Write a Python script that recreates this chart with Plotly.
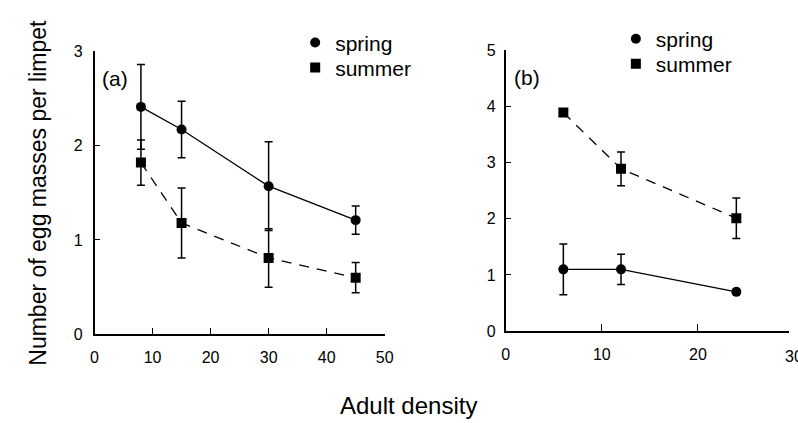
import plotly.graph_objects as go

# ---- data ----
a_density = [8, 15, 30, 45]
a_spring = [2.41, 2.17, 1.57, 1.21]
a_spring_err = [0.45, 0.30, 0.47, 0.15]
a_summer = [1.82, 1.18, 0.81, 0.60]
a_summer_err = [0.24, 0.37, 0.31, 0.16]

b_density = [6, 12, 24]
b_spring = [1.10, 1.10, 0.70]
b_spring_err = [0.45, 0.27, 0.0]
b_summer = [3.89, 2.89, 2.01]
b_summer_err = [0.0, 0.30, 0.36]

a_xticks = [0, 10, 20, 30, 40, 50]
a_yticks = [0, 1, 2, 3]
b_xticks = [0, 10, 20, 30]
b_yticks = [0, 1, 2, 3, 4, 5]

FONT = "Liberation Sans, Arial, sans-serif"
W, H = 798, 423

a_xdom = [92 / W, 387 / W]
a_ydom = [83 / H, 378 / H]
b_xdom = [510 / W, 1.0]
b_ydom = [86.3 / H, 379 / H]
a_xrange = [0, 50]
b_xrange = [0, 29.48]

fig = go.Figure()

def add_series(x, y, err, xa, ya, name, symbol, dash, legend):
    fig.add_trace(go.Scatter(
        x=x, y=y, mode="lines", xaxis=xa, yaxis=ya, showlegend=False,
        line=dict(color="black", width=1.3, dash=dash), hoverinfo="skip"))
    fig.add_trace(go.Scatter(
        x=x, y=y, mode="markers", xaxis=xa, yaxis=ya, name=name, legend=legend,
        marker=dict(symbol=symbol, size=10, color="black"),
        error_y=dict(type="data", array=err, visible=True, color="black",
                     thickness=1.5, width=4)))

add_series(a_density, a_spring, a_spring_err, "x", "y", "spring", "circle", "solid", "legend")
add_series(a_density, a_summer, a_summer_err, "x", "y", "summer", "square", "10px,8px", "legend3")
add_series(b_density, b_spring, b_spring_err, "x2", "y2", "spring", "circle", "solid", "legend2")
add_series(b_density, b_summer, b_summer_err, "x2", "y2", "summer", "square", "10px,8px", "legend4")

axis_common = dict(showline=True, linecolor="black", linewidth=1.5, showgrid=False,
                   zeroline=False, ticks="inside", tickcolor="black", tickwidth=1.2,
                   tickfont=dict(family=FONT, size=16, color="black"))

def leg(xpx, ytop):
    return dict(x=xpx / W, y=1 - ytop / H, xanchor="left", yanchor="top",
                font=dict(family=FONT, size=21, color="black"),
                bgcolor="rgba(0,0,0,0)", itemwidth=30)

fig.update_layout(
    width=W, height=H, margin=dict(l=0, r=0, t=0, b=0),
    paper_bgcolor="white", plot_bgcolor="white",
    font=dict(family=FONT, color="black"),
    xaxis=dict(domain=a_xdom, range=a_xrange, tickvals=a_xticks, ticklen=7,
               anchor="y", ticklabelstandoff=8, **axis_common),
    yaxis=dict(domain=a_ydom, range=[0, 3], tickvals=a_yticks, ticklen=6,
               anchor="x", ticklabelstandoff=7, **axis_common),
    xaxis2=dict(domain=b_xdom, range=b_xrange, tickvals=b_xticks, ticklen=7,
                anchor="y2", ticklabelstandoff=8, **axis_common),
    yaxis2=dict(domain=b_ydom, range=[0, 5], tickvals=b_yticks, ticklen=6,
                anchor="x2", ticklabelstandoff=5, **axis_common),
    legend=leg(296, 15),
    legend3=leg(296, 41),
    legend2=leg(622, 11),
    legend4=leg(622, 37),
)

# partially visible last tick label of panel (b), placed from the axis scale
x30 = b_xdom[0] + (b_xticks[-1] - b_xrange[0]) / (b_xrange[1] - b_xrange[0]) * (b_xdom[1] - b_xdom[0])

annotations = [
    dict(text="Number of egg masses per limpet", textangle=-90, xref="paper", yref="paper",
         x=35 / W, y=1 - 192 / H, showarrow=False, xanchor="center", yanchor="middle",
         font=dict(family=FONT, size=23, color="black")),
    dict(text="Adult density", xref="paper", yref="paper", x=411 / W, y=1 - 398 / H,
         showarrow=False, xanchor="center", yanchor="top",
         font=dict(family=FONT, size=24, color="black")),
    dict(text="(a)", xref="paper", yref="paper", x=113 / W, y=1 - 73 / H, showarrow=False,
         xanchor="center", yanchor="middle", font=dict(family=FONT, size=21, color="black")),
    dict(text="(b)", xref="paper", yref="paper", x=532 / W, y=1 - 72 / H, showarrow=False,
         xanchor="center", yanchor="middle", font=dict(family=FONT, size=21, color="black")),
    dict(text=str(b_xticks[-1]), xref="paper", yref="paper", x=x30, y=1 - 352 / H,
         showarrow=False, xanchor="center", yanchor="top",
         font=dict(family=FONT, size=16, color="black")),
]
fig.update_layout(annotations=annotations)

fig.write_html("out.html")
